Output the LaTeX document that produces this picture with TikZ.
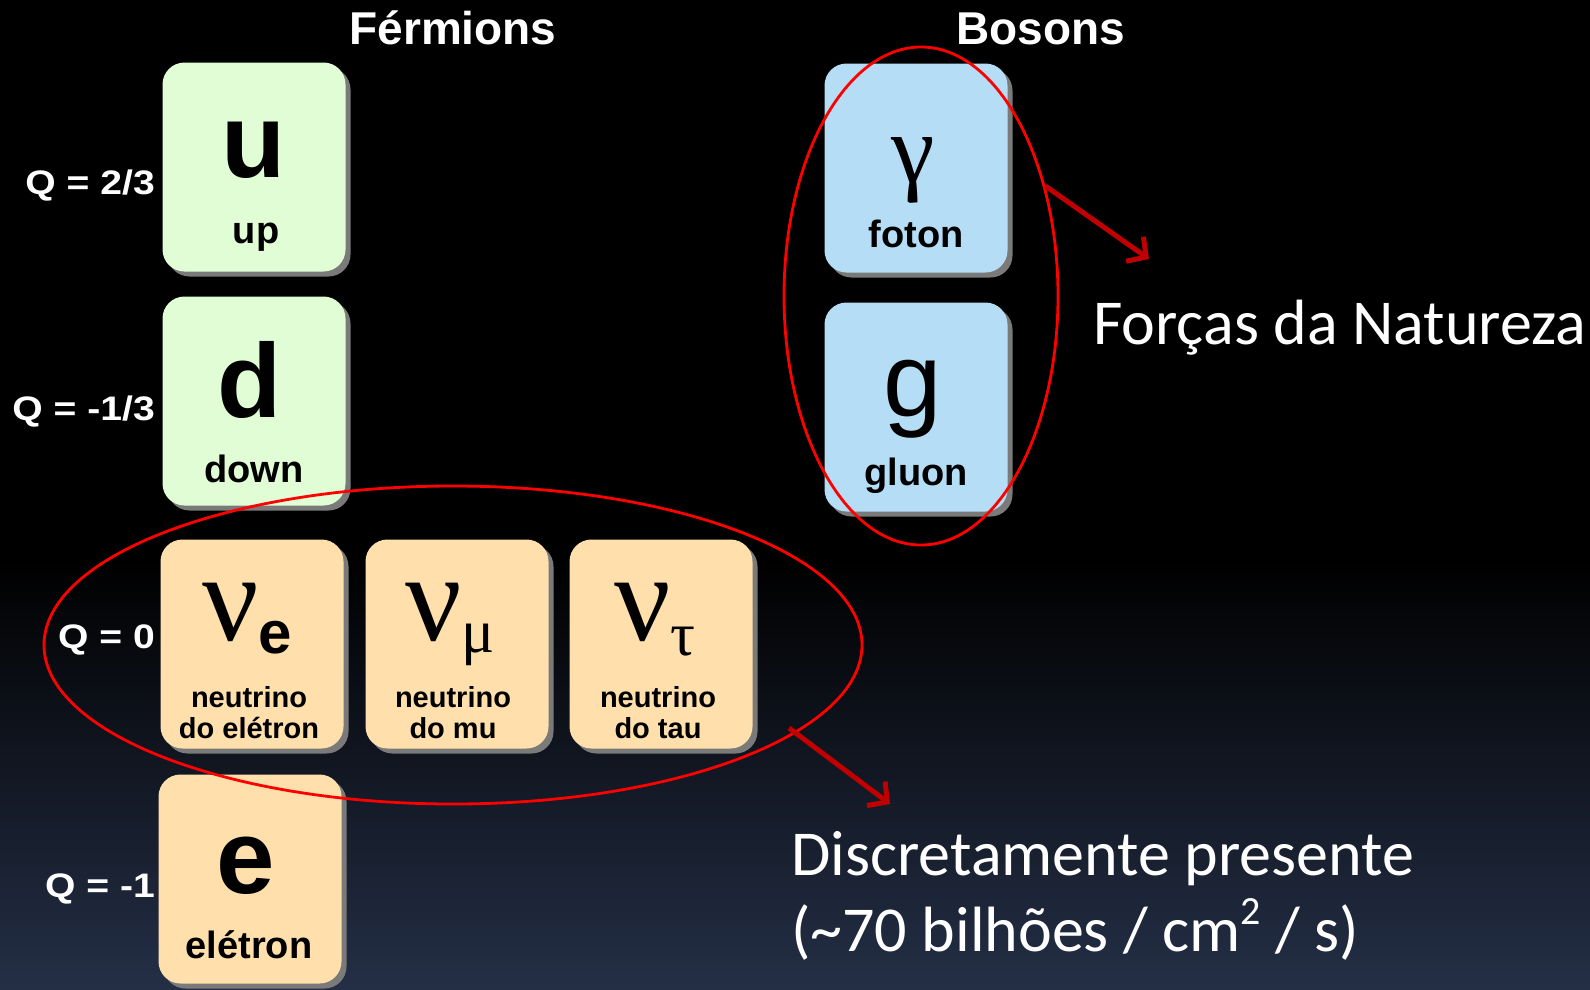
\documentclass[tikz,border=0pt]{standalone}
\usepackage{fontspec}
\newfontfamily\arial{Liberation Sans}
\newfontfamily\arialwide{Liberation Sans}[FakeStretch=1.15]
\newfontfamily\tnr{Liberation Serif}
\newfontfamily\calibri{Carlito}
\usetikzlibrary{arrows.meta,shapes.geometric,shadows,calc}
\definecolor{qgreen}{HTML}{E1FDD5}
\definecolor{qpeach}{HTML}{FFDFAB}
\definecolor{qblue}{HTML}{B5DDF5}
\definecolor{shgray}{HTML}{7A7A7A}
\definecolor{bgbottom}{RGB}{36,47,70}
\definecolor{arrowred}{HTML}{C00000}
\definecolor{ellred}{HTML}{FF0000}
\tikzset{
  pbox/.style={rounded corners=22pt, minimum width=183pt, minimum height=209pt,
    inner sep=0pt, general shadow={fill=shgray, shadow xshift=5pt, shadow yshift=-5pt}},
  bigsym/.style={anchor=base, inner sep=0pt, font=\arial\bfseries\fontsize{105}{105}\selectfont},
  biggreek/.style={anchor=base, inner sep=0pt, font=\tnr\fontsize{105}{105}\selectfont},
  plabel/.style={anchor=base, inner sep=0pt, font=\arial\bfseries\fontsize{38}{38}\selectfont},
  nlabel/.style={anchor=base, inner sep=0pt, align=center, font=\arial\bfseries\fontsize{29}{31}\selectfont},
  qlabel/.style={anchor=base east, inner sep=0pt, text=white, font=\arialwide\bfseries\fontsize{34}{34}\selectfont},
  header/.style={anchor=base, inner sep=0pt, text=white, font=\arial\bfseries\fontsize{46}{46}\selectfont},
  note/.style={anchor=base west, inner sep=0pt, text=white, align=left, font=\calibri\fontsize{64}{76}\selectfont},
  ring/.style={draw=ellred, line width=2.8pt},
  pointer/.style={draw=arrowred, line width=5pt, -{Straight Barb[length=14pt,width=30pt]}}
}
\begin{document}
\begin{tikzpicture}[x=1pt,y=-1pt]
\useasboundingbox (0,0) rectangle (1590,989);
\fill[black] (0,0) rectangle (1590,989);
\shade[top color=black, bottom color=bgbottom] (0,560) rectangle (1590,989);
% headers
\node[header] (hf) at (453,44) {Férmions};
\node[header] (hb) at (1041,44) {Bosons};
% boxes
\node[pbox, fill=qgreen] (bu) at (254,167) {};
\node[pbox, fill=qgreen] (bd) at (254,401) {};
\node[pbox, fill=qpeach] (bne) at (252,644) {};
\node[pbox, fill=qpeach] (bnm) at (457,644) {};
\node[pbox, fill=qpeach] (bnt) at (661,644) {};
\node[pbox, fill=qpeach] (be) at (250,879) {};
\node[pbox, fill=qblue] (bg) at (916,168) {};
\node[pbox, fill=qblue] (bgl) at (916,407) {};
% contents
\node[bigsym] (su) at (254,177) {u};
\node[plabel] (lu) at (256,243) {up};
\node[bigsym] (sd) at (250,417) {d};
\node[plabel] (ld) at (254,482) {down};
\node[biggreek, font=\tnr\fontsize{125}{125}\selectfont] (sne) at (247,640) {ν\raisebox{-13pt}{\arial\bfseries\fontsize{60}{60}\selectfont e}};
\node[nlabel] (lne) at (249,738) {neutrino\\do elétron};
\node[biggreek, font=\tnr\fontsize{125}{125}\selectfont] (snm) at (450,640) {ν\raisebox{-12pt}{\fontsize{62}{62}\selectfont μ}};
\node[nlabel] (lnm) at (453,738) {neutrino\\do mu};
\node[biggreek, font=\tnr\fontsize{125}{125}\selectfont] (snt) at (655,640) {ν\raisebox{-15pt}{\fontsize{62}{62}\selectfont τ}};
\node[nlabel] (lnt) at (658,738) {neutrino\\do tau};
\node[bigsym] (se) at (246,893) {e};
\node[plabel] (le) at (249,958) {elétron};
\node[biggreek, font=\tnr\fontsize{98}{98}\selectfont] (sg) at (913,182) {γ};
\node[plabel] (lg) at (916,247) {foton};
\node[bigsym, font=\arial\fontsize{105}{105}\selectfont] (sgl) at (913,416) {g};
\node[plabel] (lgl) at (916,485) {gluon};
% charges
\node[qlabel] (q1) at (155,194) {Q = 2/3};
\node[qlabel] (q2) at (155,420) {Q = -1/3};
\node[qlabel] (q3) at (155,648) {Q = 0};
\node[qlabel] (q4) at (155,897) {Q = -1};
% ellipses
\node[ring, ellipse, minimum width=274pt, minimum height=498pt, inner sep=0pt] (eb) at (921,296) {};
\node[ring, ellipse, minimum width=818pt, minimum height=318pt, inner sep=0pt] (en) at (453,645) {};
% notes
\node[note] (tf) at (1093,344) {Forças da Natureza};
\node[note] (td) at (791,951) {Discretamente presente\\(\textasciitilde70 bilhões / cm\raisebox{0.42em}{\fontsize{40}{40}\selectfont 2} / s)};
\coordinate (a1) at (1149,259);
\coordinate (a2) at (890,804);
\draw[pointer] (eb.east |- 0,186) ++(-14,0) -- (a1);
\draw[pointer] (789,728) -- (a2);
\end{tikzpicture}
\end{document}
